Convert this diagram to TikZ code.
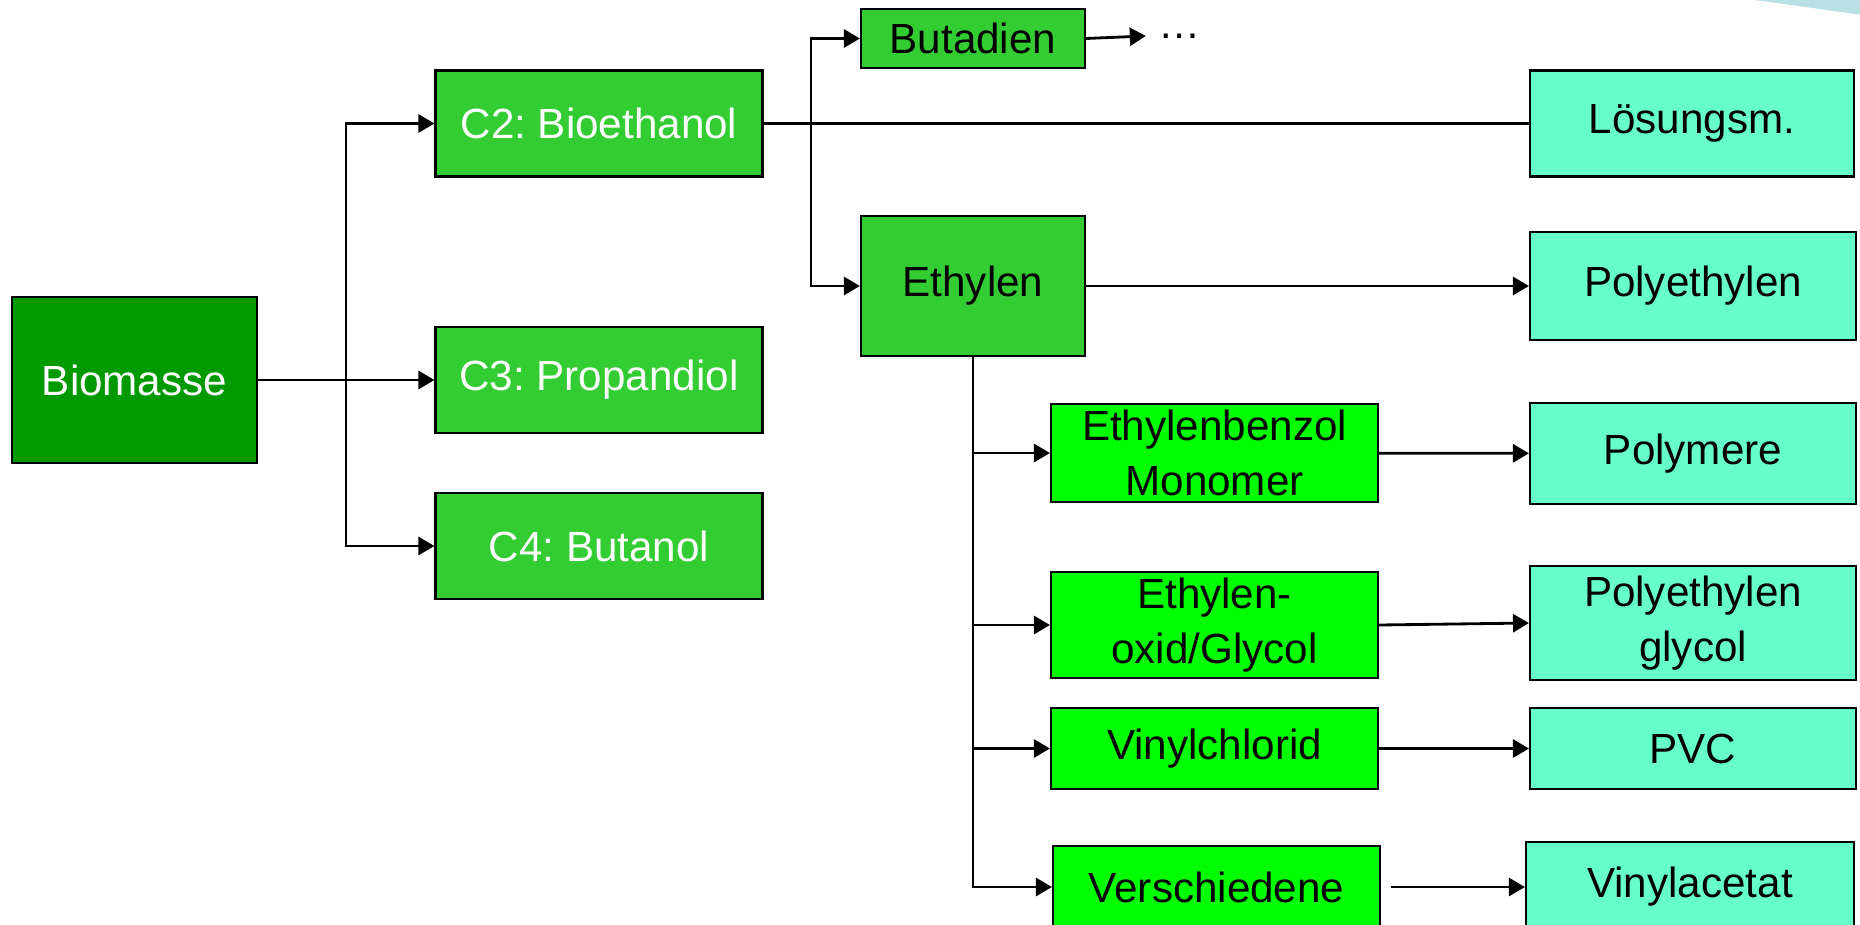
\documentclass[tikz,border=0pt]{standalone}
\usepackage{fontspec}
\setmainfont{Liberation Sans}
\usetikzlibrary{arrows.meta,positioning}
\definecolor{forest}{RGB}{0,153,0}
\definecolor{grass}{RGB}{51,204,51}
\definecolor{lime}{RGB}{0,255,0}
\definecolor{aqua}{RGB}{102,255,204}
\definecolor{haze}{RGB}{185,224,228}
\tikzset{
  >={Triangle[length=1.6mm,width=1.8mm]},
  stage/.style={draw=black,fill=#1,line width=0.6pt,minimum width=3.27cm,
    minimum height=1.06cm,align=center,inner sep=0pt,
    font=\fontsize{12pt}{15.5pt}\selectfont},
  stage/.default=grass,
  light/.style={text=white},
  link/.style={line width=0.8pt},
}

\begin{document}
\frenchspacing
\begin{tikzpicture}[link]
  \useasboundingbox (0,0) rectangle (18.6,-9.24);
  % slide decoration, top right
  \fill[haze] (17.55,0) -- (18.7,0) -- (18.7,-0.16) -- cycle;
  % raw material and platform chemicals
  \node[stage=forest,light,minimum width=2.45cm,minimum height=1.66cm] (bio) at (1.345,-3.80) {Biomasse};
  \node[stage,light] (c2) at (5.99,-1.235) {C2: Bioethanol};
  \node[stage,light] (c3) at (5.99,-3.80) {C3: Propandiol};
  \node[stage,light] (c4) at (5.99,-5.46) {C4: Butanol};
  % intermediates
  \node[stage,minimum width=2.24cm,minimum height=0.59cm] (buta) at (9.73,-0.385) {Butadien};
  \node (dots) at (11.80,-0.36) {\fontsize{12pt}{14pt}\selectfont\dots};
  \node[stage,minimum width=2.24cm,minimum height=1.40cm] (ethy) at (9.73,-2.86) {Ethylen};
  \node[stage=lime,minimum height=0.98cm] (eb) at (12.145,-4.53) {Ethylenbenzol\\Monomer};
  \node[stage=lime] (eo) at (12.145,-6.25) {Ethylen-\\oxid/Glycol};
  \node[stage=lime,minimum height=0.81cm] (vc) at (12.145,-7.485) {Vinylchlorid};
  \node[stage=lime,minimum height=0.82cm] (vs) at (12.165,-8.87) {Verschiedene};
  % products
  \node[stage=aqua,minimum width=3.24cm] (loes) at (16.92,-1.235) {Lösungsm.};
  \node[stage=aqua,minimum width=3.26cm,minimum height=1.08cm] (pe) at (16.93,-2.86) {Polyethylen};
  \node[stage=aqua,minimum width=3.26cm,minimum height=1.01cm] (poly) at (16.93,-4.535) {Polymere};
  \node[stage=aqua,minimum width=3.26cm,minimum height=1.14cm] (peg) at (16.93,-6.23) {Polyethylen\\glycol};
  \node[stage=aqua,minimum width=3.26cm,minimum height=0.81cm] (pvc) at (16.93,-7.485) {PVC};
  \node[stage=aqua,minimum width=3.28cm,minimum height=0.90cm] (va) at (16.90,-8.87) {Vinylacetat};
  % connectors
  \coordinate (j1) at (3.46,-3.80);
  \coordinate (j2) at (8.11,-1.235);
  \draw (bio.east) -- (j1);
  \draw[->] (j1) |- (c2.west);
  \draw[->] (j1) -- (c3.west);
  \draw[->] (j1) |- (c4.west);
  \draw (c2.east) -- (j2) -- (loes.west);
  \draw[->] (j2) |- (buta.west);
  \draw[->] (j2) |- (ethy.west);
  \draw[->] (buta.east) -- (dots.west);
  \draw[->] (ethy.east) -- (pe.west);
  \foreach \n in {eb,eo,vc,vs} \draw[->] (ethy.south) |- (\n.west);
  \draw[->] (eb) -- (poly);
  \draw[->] (eo.east) -- (peg.west);
  \draw[->] (vc) -- (pvc);
  \draw[->] ([xshift=1mm]vs.east) -- (va.west);
\end{tikzpicture}
\end{document}
